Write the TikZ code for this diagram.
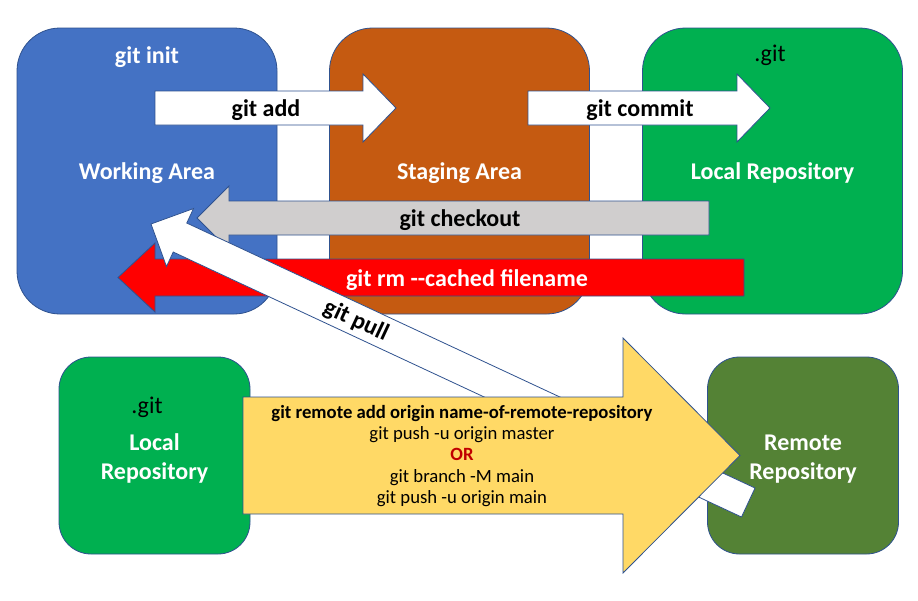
\documentclass[tikz,border=0pt]{standalone}
\usepackage{fontspec}
\setmainfont{Carlito}
\usepackage{xcolor}
\usepackage{tikz}
\usetikzlibrary{calc}
\definecolor{workblue}{HTML}{4472C4}
\definecolor{stageorange}{HTML}{C55A11}
\definecolor{repogreen}{HTML}{00B050}
\definecolor{remotegreen}{HTML}{548235}
\definecolor{pushyellow}{HTML}{FFD966}
\definecolor{checkgray}{HTML}{D0CECE}
\definecolor{rmred}{HTML}{FF0000}
\definecolor{orred}{HTML}{C00000}
\definecolor{edge}{HTML}{2F528F}

\begin{document}
\begin{tikzpicture}[x=1pt,y=-1pt,
    areabox/.style={fill=#1,draw=edge,line width=0.8pt,rounded corners=43pt,minimum width=260pt,minimum height=286pt,
      font=\bfseries\fontsize{24}{29}\selectfont,text=white,align=center,text height=17pt,text depth=1pt},
    repobox/.style={areabox=#1,rounded corners=32pt,minimum width=191pt,minimum height=197pt,text height={},text depth={}},
    blockarrow/.style={fill=#1,draw=edge,line width=0.8pt},
    cmd/.style={font=\bfseries\fontsize{24}{30}\selectfont,text=#1,inner sep=0pt,text height=17pt,text depth=1pt},
    cmd/.default=black,
    dotgit/.style={font=\fontsize{24}{30}\selectfont,inner sep=0pt,text height=17pt,text depth=1pt}]
  \def\harrow#1#2#3#4#5#6#7{% tail x, head x, tip x, mid y, body half, head half, fill
    \draw[blockarrow=#7] (#1,{#4-#5}) -- (#2,{#4-#5}) -- (#2,{#4-#6}) -- (#3,#4)
      -- (#2,{#4+#6}) -- (#2,{#4+#5}) -- (#1,{#4+#5}) -- cycle;}
  \fill[white] (0,0) rectangle (918,600);
  % the three areas
  \node[areabox=workblue] (work) at (147,171) {Working Area};
  \node[areabox=stageorange] (stage) at (459.5,171) {Staging Area};
  \node[areabox=repogreen] (local) at (772.5,171) {Local Repository};
  \node[cmd=white] (init) at (147,55) {git init};
  \node[dotgit] (localgit) at (770,53.7) {.git};
  % local and remote repository
  \node[repobox=repogreen] (clone) at (154.5,455.5) {\rule{0pt}{23pt}Local\\Repository};
  \node[repobox=remotegreen] (remote) at (803,455.5) {\rule{0pt}{23pt}Remote\\Repository};
  \node[dotgit] (clonegit) at (147,405.3) {.git};
  % add, commit, checkout, rm
  \harrow{155}{363}{396}{108}{17}{34}{white}
  \harrow{528}{737}{770}{108}{17}{34}{white}
  \harrow{709}{229}{197}{218}{17}{32}{checkgray}
  \harrow{744}{155}{118}{277.5}{18.5}{34.5}{rmred}
  \node[cmd] (addlbl) at (266,108.5) {git add};
  \node[cmd] (commitlbl) at (640,108.5) {git commit};
  \node[cmd] (checkoutlbl) at (460,218.5) {git checkout};
  \node[cmd=white] (rmlbl) at (467,278) {git rm -\kern0pt-cached filename};
  % pull: from remote back to working area
  \begin{scope}[shift={(151,224)},rotate=155]
    \draw[blockarrow=white] (0,0) -- (-32,-32) -- (-32,-16) -- (-659,-16) -- (-659,16) -- (-32,16) -- (-32,32) -- cycle;
  \end{scope}
  \node[font=\bfseries\fontsize{24}{30}\selectfont,inner sep=0pt,rotate=-25] (pulllbl) at (356,321) {git pull};
  % push
  \harrow{243}{623}{740}{455.5}{58.5}{117.5}{pushyellow}
  \node[font=\fontsize{18.7}{21.4}\selectfont,align=center,inner sep=0pt] (pushlbl) at (462,456)
    {\textbf{git remote add origin name-of-remote-repository}\\git push -u origin master\\
     \textcolor{orred}{\textbf{OR}}\\git branch -M main\\git push -u origin main};
\end{tikzpicture}
\end{document}
